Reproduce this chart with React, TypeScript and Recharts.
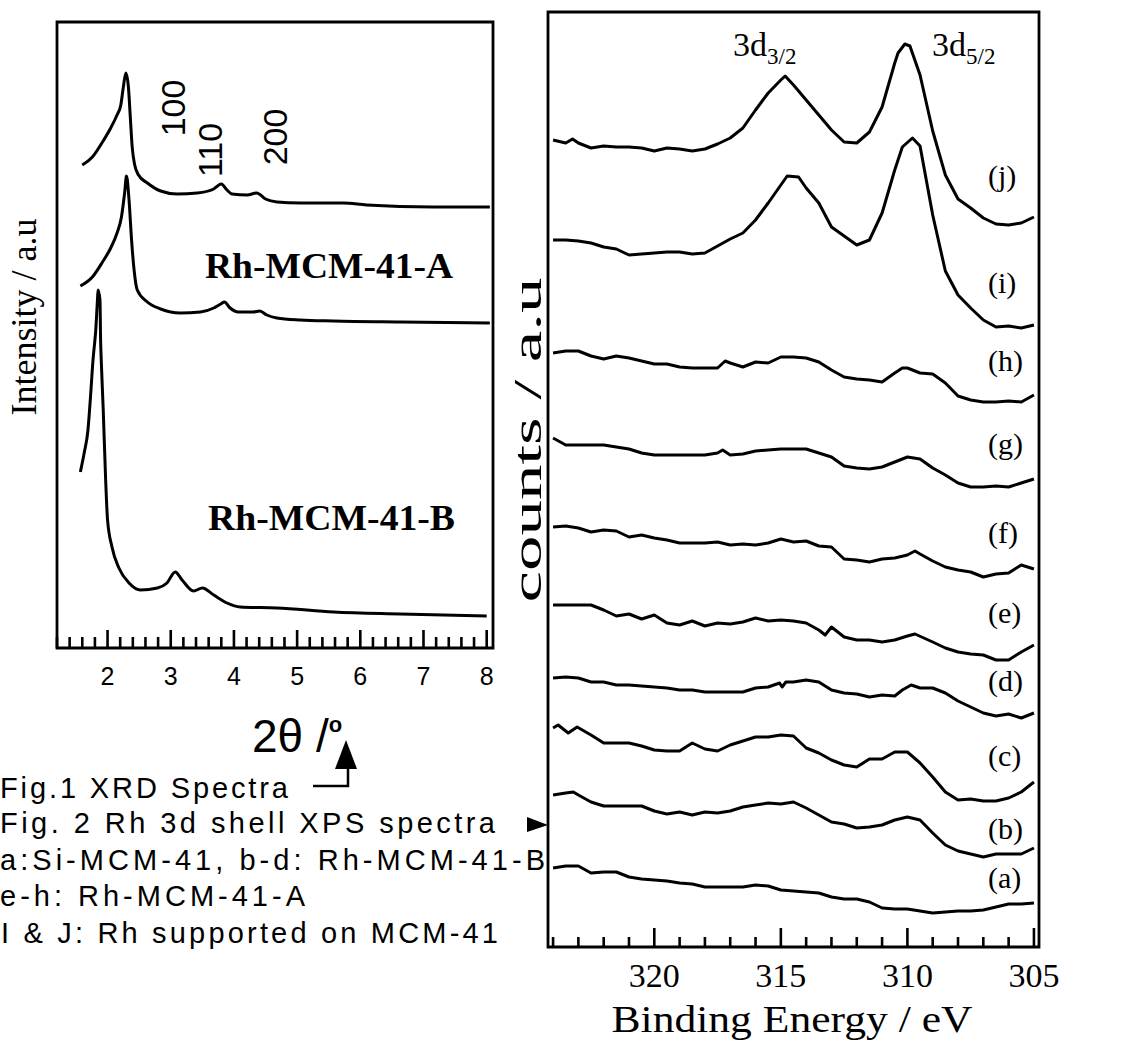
import React from 'react';
import { LineChart, Line, XAxis, YAxis, ReferenceArea } from 'recharts';

const SERIF = '"Liberation Serif", "Times New Roman", serif';
const SANS = '"Liberation Sans", Arial, Helvetica, sans-serif';

// ---------- Fig.1 XRD (2θ in degrees, intensity in a.u.) ----------
const xrdTicks = [1.2, 1.4, 1.6, 1.8, 2, 2.2, 2.4, 2.6, 2.8, 3, 3.2, 3.4, 3.6, 3.8, 4, 4.2, 4.4, 4.6, 4.8, 5, 5.2, 5.4, 5.6, 5.8, 6, 6.2, 6.4, 6.6, 6.8, 7, 7.2, 7.4, 7.6, 7.8, 8];
const xrdTop: [number, number][] = [
  [1.6, 483], [1.76, 491], [1.92, 506], [2.05, 520], [2.15, 533], [2.21, 543], [2.25, 561], [2.29, 575],
  [2.33, 561], [2.36, 531], [2.39, 501], [2.43, 483], [2.49, 473], [2.63, 465], [2.84, 457], [3.1, 454],
  [3.42, 455], [3.68, 459], [3.8, 464], [3.89, 458], [3.97, 454], [4.21, 453], [4.36, 455], [4.5, 449],
  [4.68, 446], [5.05, 445], [5.73, 445], [6.1, 443], [7.15, 441], [8.05, 441],
];
const xrdA: [number, number][] = [
  [1.57, 362], [1.76, 371], [1.92, 386], [2.05, 400], [2.15, 415], [2.22, 431], [2.27, 455], [2.3, 472],
  [2.34, 448], [2.38, 408], [2.42, 378], [2.47, 358], [2.63, 346], [2.84, 339], [3.15, 335], [3.47, 336],
  [3.68, 340], [3.79, 344], [3.85, 346], [3.94, 340], [4.07, 336], [4.31, 336], [4.41, 337], [4.52, 333],
  [4.68, 330], [5.05, 328], [5.58, 327], [6.63, 326], [8.05, 325],
];
const xrdB: [number, number][] = [
  [1.57, 176], [1.63, 195], [1.69, 218], [1.73, 251], [1.77, 288], [1.8, 308], [1.81, 315], [1.84, 348],
  [1.85, 358], [1.88, 348], [1.89, 308], [1.9, 288], [1.93, 241], [1.97, 168], [2.0, 128], [2.07, 101],
  [2.18, 80], [2.34, 65], [2.52, 58], [2.79, 60], [2.94, 65], [3.07, 76], [3.18, 68], [3.36, 57],
  [3.5, 60], [3.68, 53], [3.89, 45], [4.1, 41], [4.68, 40], [5.58, 36], [6.63, 34], [8.0, 32],
];

// ---------- Fig.2 XPS (binding energy in eV, counts in a.u., stacked) ----------
const xpsTicks = [305, 306, 307, 308, 309, 310, 311, 312, 313, 314, 315, 316, 317, 318, 319, 320, 321, 322, 323, 324];
const xpsJ: [number, number][] = [
  [324, 807], [323.5, 804], [323.23, 808], [323, 804], [322.5, 799], [322, 801], [321.5, 800], [321, 800],
  [320.5, 799], [320, 796], [319.5, 799], [319, 798], [318.5, 796], [318, 798], [317.5, 803], [317, 809],
  [316.5, 819], [316, 837], [315.5, 854], [315, 867], [314.83, 871], [314.5, 862], [314, 847], [313.5, 832],
  [313, 817], [312.5, 805], [312, 804], [311.5, 815], [311, 840], [310.5, 884], [310.37, 894], [310.1, 903],
  [309.9, 901], [309.5, 872], [309, 816], [308.5, 772], [308, 748], [307.5, 739], [307, 729], [306.5, 723],
  [306, 722], [305.5, 724], [305, 730],
];
const xpsI: [number, number][] = [
  [324, 707], [323.5, 707], [323, 706], [322.5, 704], [322, 700], [321.5, 698], [321, 692], [320.5, 693],
  [320, 694], [319.5, 695], [319, 695], [318.5, 693], [318, 694], [317.5, 701], [317, 708], [316.5, 714],
  [316, 727], [315.5, 744], [315, 762], [314.75, 771], [314.3, 770], [314, 759], [313.5, 744], [313, 720],
  [312.5, 711], [312, 702], [311.5, 707], [311, 734], [310.5, 777], [310.2, 800], [309.8, 809], [309.5, 801],
  [309, 732], [308.5, 676], [308, 652], [307.5, 639], [307, 627], [306.5, 620], [306, 621], [305.5, 619],
  [305, 622],
];
const xpsH: [number, number][] = [
  [324, 594], [323.5, 596], [323, 596], [322.5, 591], [322, 588], [321.5, 591], [321, 589], [320.5, 586],
  [320, 583], [319.5, 583], [319, 580], [318.5, 579], [318, 579], [317.5, 579], [317.2, 586], [317, 584],
  [316.5, 580], [316, 585], [315.5, 584], [315, 590], [314.5, 590], [314, 589], [313.5, 585], [313, 577],
  [312.5, 570], [312, 568], [311.5, 567], [311, 565], [310.5, 574], [310.2, 579], [310, 579], [309.5, 574],
  [309, 573], [308.5, 564], [308, 551], [307.5, 547], [307, 545], [306.5, 545], [306, 546], [305.5, 545],
  [305, 552],
];
const xpsG: [number, number][] = [
  [324, 509], [323.5, 502], [323, 502], [322.5, 502], [322, 502], [321.5, 500], [321, 498], [320.5, 494],
  [320, 492], [319.5, 492], [319, 492], [318.5, 492], [318, 492], [317.5, 494], [317.3, 497], [317, 492],
  [316.5, 493], [316, 496], [315.5, 497], [315, 498], [314.5, 498], [314, 498], [313.5, 494], [313, 490],
  [312.5, 481], [312, 479], [311.5, 478], [311, 480], [310.5, 485], [310, 490], [309.5, 488], [309, 479],
  [308.5, 472], [308, 464], [307.5, 460], [307, 460], [306.5, 461], [306, 460], [305.5, 464], [305, 468],
];
const xpsF: [number, number][] = [
  [324, 420], [323.5, 421], [323, 419], [322.5, 415], [322, 417], [321.5, 416], [321, 410], [320.5, 412],
  [320, 409], [319.5, 407], [319, 404], [318.5, 404], [318, 404], [317.5, 405], [317, 402], [316.5, 403],
  [316, 402], [315.5, 404], [315, 408], [314.5, 405], [314, 406], [313.5, 401], [313, 400], [312.5, 388],
  [312, 387], [311.5, 385], [311, 388], [310.5, 389], [310, 392], [309.7, 396], [309.5, 393], [309, 386],
  [308.5, 380], [308, 377], [307.5, 375], [307, 370], [306.5, 373], [306, 374], [305.5, 382], [305, 378],
];
const xpsE: [number, number][] = [
  [324, 342], [323.5, 342], [323, 342], [322.5, 342], [322, 337], [321.5, 331], [321, 333], [320.5, 328],
  [320, 332], [319.5, 324], [319, 322], [318.5, 326], [318, 321], [317.5, 324], [317, 323], [316.5, 325],
  [316, 329], [315.5, 326], [315, 327], [314.5, 326], [314, 324], [313.5, 317], [313.25, 312], [313, 320],
  [312.5, 310], [312, 307], [311.5, 307], [311, 305], [310.5, 307], [310, 311], [309.7, 313], [309, 305],
  [308.5, 299], [308, 295], [307.5, 293], [307, 292], [306.5, 287], [306, 287], [305.5, 295], [305, 302],
];
const xpsD: [number, number][] = [
  [324, 269], [323.5, 270], [323, 269], [322.5, 265], [322, 265], [321.5, 262], [321, 262], [320.5, 261],
  [320, 260], [319.5, 259], [319, 257], [318.5, 257], [318, 255], [317.5, 255], [317, 255], [316.5, 255],
  [316, 259], [315.5, 260], [315.05, 264], [314.95, 260], [314.8, 265], [314.5, 265], [314, 267], [313.5, 265],
  [313, 257], [312.5, 254], [312, 253], [311.5, 250], [311, 252], [310.5, 251], [310.2, 257], [309.85, 262],
  [309.5, 259], [309, 259], [308.5, 254], [308, 246], [307.5, 240], [307, 234], [306.5, 231], [306, 233],
  [305.5, 229], [305, 234],
];
const xpsC: [number, number][] = [
  [324, 219], [323.8, 222], [323.4, 214], [323.05, 220], [322.5, 212], [322, 204], [321.5, 204], [321, 204],
  [320.5, 201], [320, 197], [319.5, 196], [319, 196], [318.5, 204], [318, 198], [317.5, 196], [317, 202],
  [316.5, 206], [316, 210], [315.5, 210], [315, 212], [314.5, 211], [314, 199], [313.5, 194], [313, 187],
  [312.5, 182], [312, 180], [311.5, 188], [311, 188], [310.5, 195], [310, 195], [309.5, 184], [309, 170],
  [308.5, 155], [308, 147], [307.5, 148], [307, 146], [306.5, 146], [306, 149], [305.5, 155], [305, 165],
];
const xpsB: [number, number][] = [
  [324, 152], [323.5, 154], [323.2, 155], [323, 152], [322.5, 145], [322, 141], [321.5, 141], [321, 141],
  [320.5, 141], [320, 136], [319.5, 133], [319, 135], [318.5, 132], [318, 135], [317.5, 134], [317, 136],
  [316.5, 140], [316, 142], [315.5, 144], [315, 143], [314.5, 145], [314, 139], [313.5, 132], [313, 125],
  [312.5, 123], [312, 119], [311.5, 120], [311, 122], [310.5, 127], [310, 130], [309.5, 127], [309, 114],
  [308.5, 102], [308, 96], [307.5, 93], [307, 90], [306.5, 93], [306, 93], [305.5, 93], [305, 99],
];
const xpsA: [number, number][] = [
  [324, 79], [323.5, 81], [323, 81], [322.5, 74], [322, 75], [321.5, 75], [321, 70], [320.5, 68],
  [320, 67], [319.5, 66], [319, 64], [318.5, 63], [318, 60], [317.5, 60], [317, 60], [316.5, 60],
  [316, 62], [315.5, 61], [315, 57], [314.5, 56], [314, 55], [313.5, 54], [313, 50], [312.5, 48],
  [312, 48], [311.5, 45], [311, 39], [310.5, 38], [310, 38], [309.5, 36], [309, 34], [308.5, 35],
  [308, 36], [307.5, 36], [307, 37], [306.5, 40], [306, 43], [305.5, 43], [305, 44],
];
const xpsSeries = [xpsA, xpsB, xpsC, xpsD, xpsE, xpsF, xpsG, xpsH, xpsI, xpsJ];
const xpsCurveLabels = ['(a)', '(b)', '(c)', '(d)', '(e)', '(f)', '(g)', '(h)', '(i)', '(j)'];

const toXY = (arr: [number, number][]) => arr.map(([x, y]) => ({ x, y }));

function XrdTick(props: any) {
  const { x, y, payload } = props;
  const v = Number(payload.value);
  const major = Math.abs(v - Math.round(v)) < 1e-6;
  return (
    <g>
      <line x1={x} x2={x} y1={y} y2={y - (major ? 18 : 11)} stroke="#000" strokeWidth={2.6} />
      {major && (
        <text x={x} y={y + 37} textAnchor="middle" fontFamily={SANS} fontSize={25} fill="#000">
          {String(Math.round(v))}
        </text>
      )}
    </g>
  );
}

function XpsTick(props: any) {
  const { x, y, payload } = props;
  const v = Number(payload.value);
  const major = v % 5 === 0;
  return (
    <g>
      <line x1={x} x2={x} y1={y} y2={y - (major ? 19 : 10)} stroke="#000" strokeWidth={2.6} />
      {major && (
        <text x={x} y={y + 40} textAnchor="middle" fontFamily={SERIF} fontSize={34} fill="#000">
          {String(v)}
        </text>
      )}
    </g>
  );
}

const labelY = [888, 839, 766, 691, 623, 543, 454, 371, 293, 186];

export default function App() {
  return (
    <div style={{ position: 'absolute', left: 0, top: 0, width: 1129, height: 1045, background: '#fff', overflow: 'hidden' }}>
      <div style={{ position: 'absolute', left: 0, top: 0 }}>
        <LineChart width={520} height={720} margin={{ top: 22, left: 57, right: 27, bottom: 32 }}>
          <XAxis type="number" dataKey="x" domain={[1.2, 8.1]} ticks={xrdTicks} interval={0}
            tick={(p: any) => <XrdTick {...p} />} tickSize={0} tickMargin={0} axisLine={false} tickLine={false}
            height={40} allowDataOverflow />
          <YAxis type="number" domain={[0, 626]} hide width={0} allowDataOverflow />
          <ReferenceArea x1={1.2} x2={8.1} y1={0} y2={626} stroke="#000" strokeWidth={2.8} fill="none" fillOpacity={0} />
          <Line data={toXY(xrdTop)} dataKey="y" type="monotone" stroke="#000" strokeWidth={3} dot={false} isAnimationActive={false} />
          <Line data={toXY(xrdA)} dataKey="y" type="monotone" stroke="#000" strokeWidth={3} dot={false} isAnimationActive={false} />
          <Line data={toXY(xrdB)} dataKey="y" type="monotone" stroke="#000" strokeWidth={3} dot={false} isAnimationActive={false} />
        </LineChart>
      </div>
      <div style={{ position: 'absolute', left: 520, top: 0 }}>
        <LineChart width={609} height={1045} margin={{ top: 12, left: 28, right: 90, bottom: 38 }}>
          <XAxis type="number" dataKey="x" domain={[304.8, 324.2]} reversed ticks={xpsTicks} interval={0}
            tick={(p: any) => <XpsTick {...p} />} tickSize={0} tickMargin={0} axisLine={false} tickLine={false}
            height={60} allowDataOverflow />
          <YAxis type="number" domain={[0, 935]} hide width={0} allowDataOverflow />
          <ReferenceArea x1={304.8} x2={324.2} y1={0} y2={935} stroke="#000" strokeWidth={2.8} fill="none" fillOpacity={0} />
          {xpsSeries.map((s, i) => (
            <Line key={i} data={toXY(s)} dataKey="y" type="linear" stroke="#000" strokeWidth={3}
              strokeLinejoin="round" dot={false} isAnimationActive={false} />
          ))}
        </LineChart>
      </div>
      <svg width={1129} height={1045} style={{ position: 'absolute', left: 0, top: 0, pointerEvents: 'none' }}>
        {/* Fig.1 annotations */}
        <text transform="translate(36,317) rotate(-90)" textAnchor="middle" fontFamily={SERIF} fontSize={36}
          textLength={197} lengthAdjust="spacingAndGlyphs">Intensity / a.u</text>
        <text transform="translate(185,108) rotate(-90)" textAnchor="middle" fontFamily={SANS} fontSize={34}>100</text>
        <text transform="translate(222,150) rotate(-90)" textAnchor="middle" fontFamily={SANS} fontSize={34}>110</text>
        <text transform="translate(287,137) rotate(-90)" textAnchor="middle" fontFamily={SANS} fontSize={34}>200</text>
        <text x={205} y={278} fontFamily={SERIF} fontWeight="bold" fontSize={36} textLength={248} lengthAdjust="spacingAndGlyphs">Rh-MCM-41-A</text>
        <text x={208} y={530} fontFamily={SERIF} fontWeight="bold" fontSize={36} textLength={247} lengthAdjust="spacingAndGlyphs">Rh-MCM-41-B</text>
        <text x={252} y={752} fontFamily={SANS} fontSize={46}>
          2θ /<tspan fontSize={22} fontWeight="bold" dy={-20}>o</tspan>
        </text>
        <path d="M313,786 H348 V766" stroke="#000" strokeWidth={2.5} fill="none" />
        <path d="M346,740 L335,769 L357,769 Z" fill="#000" />
        {/* captions */}
        <text x={0} y={798} fontFamily={SANS} fontSize={29} textLength={288} lengthAdjust="spacing">Fig.1 XRD Spectra</text>
        <text x={0} y={833} fontFamily={SANS} fontSize={29} textLength={495} lengthAdjust="spacing">Fig. 2 Rh 3d shell XPS spectra</text>
        <path d="M527,817 L527,832 L548,825 Z" fill="#000" />
        <text x={0} y={870} fontFamily={SANS} fontSize={29} textLength={545} lengthAdjust="spacing">a:Si-MCM-41, b-d: Rh-MCM-41-B</text>
        <text x={0} y={906} fontFamily={SANS} fontSize={29} textLength={305} lengthAdjust="spacing">e-h: Rh-MCM-41-A</text>
        <text x={1} y={943} fontFamily={SANS} fontSize={29} textLength={497} lengthAdjust="spacing">{'I & J: Rh supported on MCM-41'}</text>
        {/* Fig.2 annotations */}
        <text transform="translate(541,440) rotate(-90)" textAnchor="middle" fontFamily={SERIF} fontSize={39}
          textLength={325} lengthAdjust="spacingAndGlyphs">counts / a.u</text>
        <text x={733} y={56} fontFamily={SERIF} fontSize={34}>3d<tspan fontSize={23} dy={8}>3/2</tspan></text>
        <text x={932} y={56} fontFamily={SERIF} fontSize={34}>3d<tspan fontSize={23} dy={8}>5/2</tspan></text>
        {xpsCurveLabels.map((t, i) => (
          <text key={t} x={988} y={labelY[i]} fontFamily={SERIF} fontSize={30}>{t}</text>
        ))}
        <text x={792} y={1032} textAnchor="middle" fontFamily={SERIF} fontSize={38} textLength={361} lengthAdjust="spacingAndGlyphs">Binding Energy / eV</text>
      </svg>
    </div>
  );
}
